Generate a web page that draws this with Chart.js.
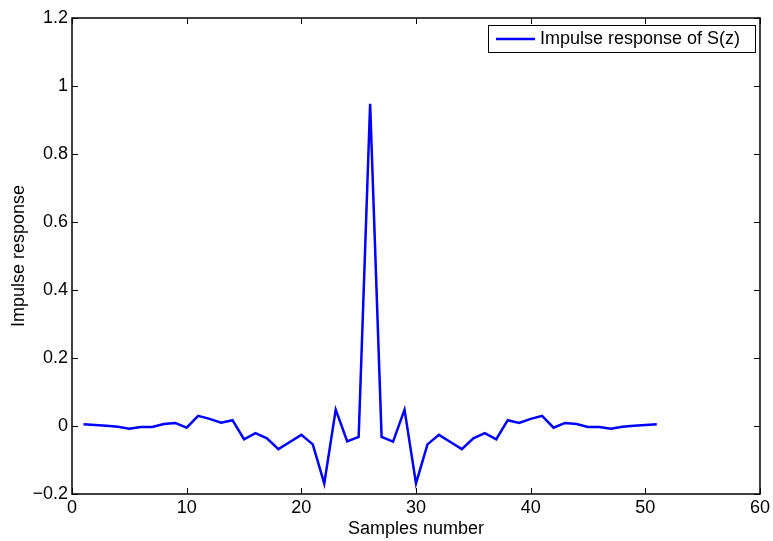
<!DOCTYPE html>
<html>
<head>
<meta charset="utf-8">
<script src="https://cdn.jsdelivr.net/npm/chart.js@4"></script>
<style>
  html, body { margin: 0; padding: 0; background: #fff; }
  #wrap { width: 773px; height: 541px; }
</style>
</head>
<body>
<div id="wrap"><canvas id="chart" width="773" height="541"></canvas></div>
<script>
// ===== DATA =====
var samples = [];
for (var i = 1; i <= 51; i++) samples.push(i);

var impulse = [
    0.005, 0.003, 0.001, -0.002, -0.008, -0.003, -0.003, 0.006, 0.009, -0.005,
    0.030, 0.021, 0.010, 0.017, -0.039, -0.021, -0.036, -0.068, -0.047, -0.026,
    -0.054, -0.169, 0.048, -0.045, -0.032, 0.948, -0.032, -0.046, 0.048, -0.169,
    -0.054, -0.026, -0.047, -0.068, -0.036, -0.021, -0.039, 0.017, 0.009, 0.021,
    0.030, -0.005, 0.009, 0.006, -0.003, -0.003, -0.008, -0.002, 0.001, 0.003,
    0.005
];

var xTicks = [0, 10, 20, 30, 40, 50, 60];
var yTicks = [-0.2, 0, 0.2, 0.4, 0.6, 0.8, 1, 1.2];

var seriesLabel = 'Impulse response of S(z)';
var xTitle = 'Samples number';
var yTitle = 'Impulse response';

var FONT = '"Liberation Sans", Arial, sans-serif';

// ===== MATLAB-STYLE BOX, INWARD TICKS, LEGEND =====
var boxPlugin = {
    id: 'boxPlugin',
    afterDatasetsDraw: function(chart) {
        var ctx = chart.ctx;
        var a = chart.chartArea;
        var xs = chart.scales.x, ys = chart.scales.y;
        var tl = 6;
        ctx.save();
        ctx.strokeStyle = '#000';
        ctx.lineWidth = 1;
        ctx.beginPath();
        xTicks.forEach(function(t) {
            var px = Math.round(xs.getPixelForValue(t)) + 0.5;
            ctx.moveTo(px, a.bottom); ctx.lineTo(px, a.bottom - tl);
            ctx.moveTo(px, a.top); ctx.lineTo(px, a.top + tl);
        });
        yTicks.forEach(function(t) {
            var py = Math.round(ys.getPixelForValue(t)) + 0.5;
            ctx.moveTo(a.left, py); ctx.lineTo(a.left + tl, py);
            ctx.moveTo(a.right, py); ctx.lineTo(a.right - tl, py);
        });
        ctx.stroke();
        ctx.lineWidth = 1.5;
        ctx.strokeRect(a.left, a.top, a.right - a.left, a.bottom - a.top);

        // legend box
        var lx = 488, ly = 25, lw = 267, lh = 27;
        ctx.fillStyle = '#fff';
        ctx.fillRect(lx, ly, lw, lh);
        ctx.lineWidth = 1;
        ctx.strokeRect(lx + 0.5, ly + 0.5, lw, lh);
        ctx.strokeStyle = '#0000ff';
        ctx.lineWidth = 2.5;
        ctx.beginPath();
        ctx.moveTo(496, ly + lh / 2 + 0.5);
        ctx.lineTo(535, ly + lh / 2 + 0.5);
        ctx.stroke();
        ctx.fillStyle = '#000';
        ctx.font = '18px ' + FONT;
        ctx.textBaseline = 'middle';
        ctx.fillText(seriesLabel, 540, ly + lh / 2 + 1);
        ctx.restore();
    }
};

function fmtTick(v) {
    var s = String(Math.round(v * 10) / 10);
    return s.replace('-', '\u2212');
}

// ===== CHART =====
new Chart(document.getElementById('chart'), {
    type: 'line',
    data: {
        labels: samples,
        datasets: [{
            label: seriesLabel,
            data: samples.map(function(s, i) { return { x: s, y: impulse[i] }; }),
            borderColor: '#0000ff',
            borderWidth: 2.5,
            pointRadius: 0,
            tension: 0,
            fill: false
        }]
    },
    options: {
        responsive: false,
        animation: false,
        layout: { padding: { top: 18, right: 5, left: 0, bottom: 0 } },
        plugins: {
            legend: { display: false },
            tooltip: { enabled: false }
        },
        scales: {
            x: {
                type: 'linear',
                min: 0,
                max: 60,
                afterBuildTicks: function(s) { s.ticks = xTicks.map(function(v) { return { value: v }; }); },
                afterFit: function(s) { s.height = 47; },
                grid: { display: false, tickLength: 0 },
                border: { display: false },
                ticks: {
                    color: '#000',
                    padding: 3,
                    font: { family: FONT, size: 18 },
                    maxRotation: 0,
                    callback: function(v) { return fmtTick(v); }
                },
                title: {
                    display: true,
                    text: xTitle,
                    color: '#000',
                    padding: { top: 0, bottom: 1 },
                    font: { family: FONT, size: 18 }
                }
            },
            y: {
                type: 'linear',
                min: -0.2,
                max: 1.2,
                afterBuildTicks: function(s) { s.ticks = yTicks.map(function(v) { return { value: v }; }); },
                afterFit: function(s) { s.width = 72; },
                grid: { display: false, tickLength: 0 },
                border: { display: false },
                ticks: {
                    color: '#000',
                    padding: 4,
                    font: { family: FONT, size: 18 },
                    callback: function(v) { return fmtTick(v); }
                },
                title: {
                    display: true,
                    text: yTitle,
                    color: '#000',
                    padding: { top: 8, bottom: 0 },
                    font: { family: FONT, size: 18 }
                }
            }
        }
    },
    plugins: [boxPlugin]
});
</script>
</body>
</html>
